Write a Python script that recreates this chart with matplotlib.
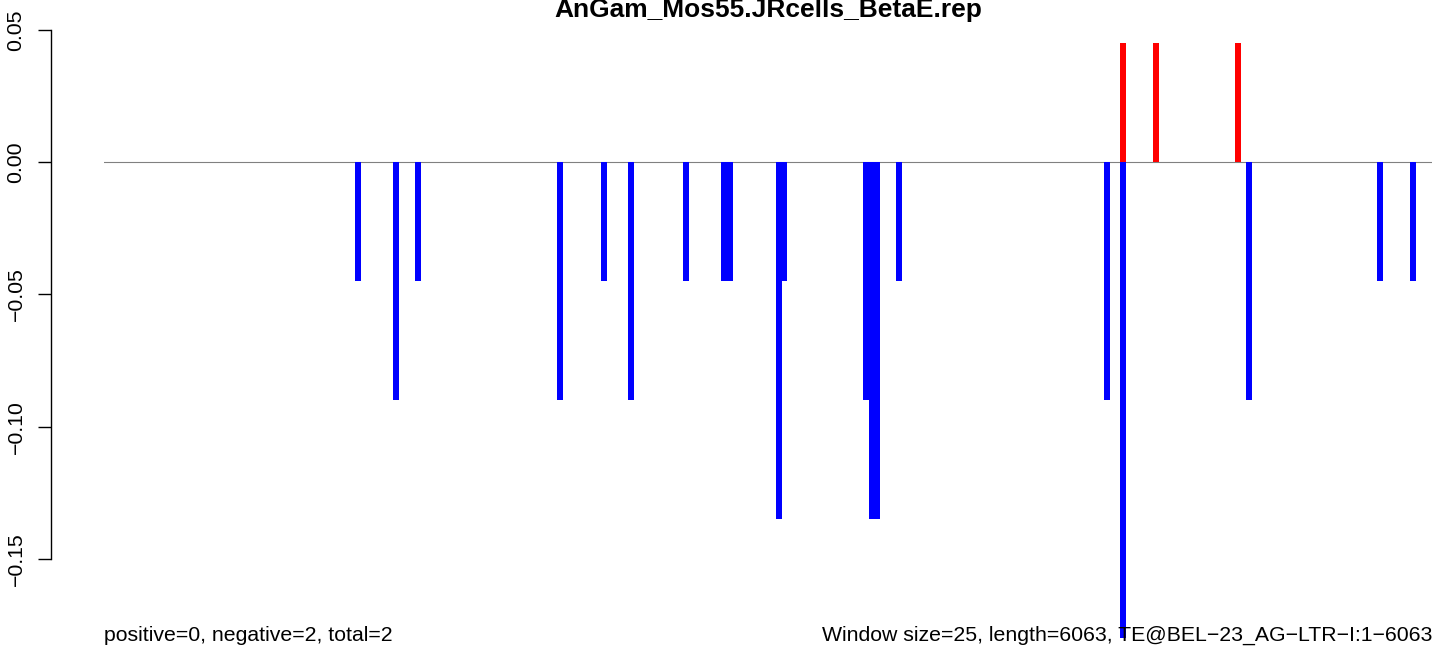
import matplotlib
matplotlib.use("Agg")
import matplotlib.pyplot as plt

plt.rcParams['font.family'] = ['Liberation Sans', 'DejaVu Sans']

title = "AnGam_Mos55.JRcells_BetaE.rep"
n_windows = 243

neg_windows = [46, 53, 57, 83, 91, 96, 106, 113, 114, 123, 124, 139, 140, 141,
               145, 183, 186, 209, 233, 239]
neg_values = [-0.045, -0.09, -0.045, -0.09, -0.045, -0.09, -0.045, -0.045, -0.045,
              -0.135, -0.045, -0.09, -0.135, -0.135, -0.045, -0.09, -0.18, -0.09,
              -0.045, -0.045]
pos_windows = [186, 192, 207]
pos_values = [0.045, 0.045, 0.045]

yticks = [-0.15, -0.10, -0.05, 0.00, 0.05]
ytick_labels = ["\u22120.15", "\u22120.10", "\u22120.05", "0.00", "0.05"]

left_text = "positive=0, negative=2, total=2"
right_text = "Window size=25, length=6063, TE@BEL\u221223_AG\u2212LTR\u2212I:1\u22126063"

W, H = 1444, 652
dpi = 100
fig = plt.figure(figsize=(W / dpi, H / dpi), dpi=dpi)

px_per_unit_y = 2645.0
y_top_px = 30.0
ymin, ymax = -0.18, 0.05
y_bot_px = y_top_px + (ymax - ymin) * px_per_unit_y
ax = fig.add_axes([104 / W, 1 - y_bot_px / H, (1432 - 104) / W, (y_bot_px - y_top_px) / H])
ax.set_xlim(-0.5, n_windows - 0.5)
ax.set_ylim(ymin, ymax)

bw = 6.0 / ((1432 - 104) / n_windows)
ax.axhline(0, color="#808080", linewidth=0.8, zorder=1)
ax.bar(neg_windows, neg_values, width=bw, color="#0000FF", linewidth=0, clip_on=False, zorder=2)
ax.bar(pos_windows, pos_values, width=bw, color="#FF0000", linewidth=0, clip_on=False, zorder=2)

for s in ["top", "right", "bottom"]:
    ax.spines[s].set_visible(False)
ax.spines["left"].set_position(("outward", (104 - 51) * 72 / dpi))
ax.spines["left"].set_bounds(-0.15, 0.05)
ax.spines["left"].set_linewidth(1.0)
ax.set_xticks([])
ax.set_yticks(yticks)
ax.set_yticklabels(ytick_labels, rotation=90, va="center", fontsize=15.3)
ax.tick_params(axis="y", length=13 * 72 / dpi, width=1.0, pad=9)

fig.text(768 / W, 1 - 17 / H, title, ha="center", va="baseline", fontsize=19, fontweight="bold")
fig.text(104 / W, 1 - 641 / H, left_text, ha="left", va="baseline", fontsize=15.3)
fig.text(1432 / W, 1 - 641 / H, right_text, ha="right", va="baseline", fontsize=15.3)

fig.savefig("out.png", dpi=dpi, facecolor="white")
